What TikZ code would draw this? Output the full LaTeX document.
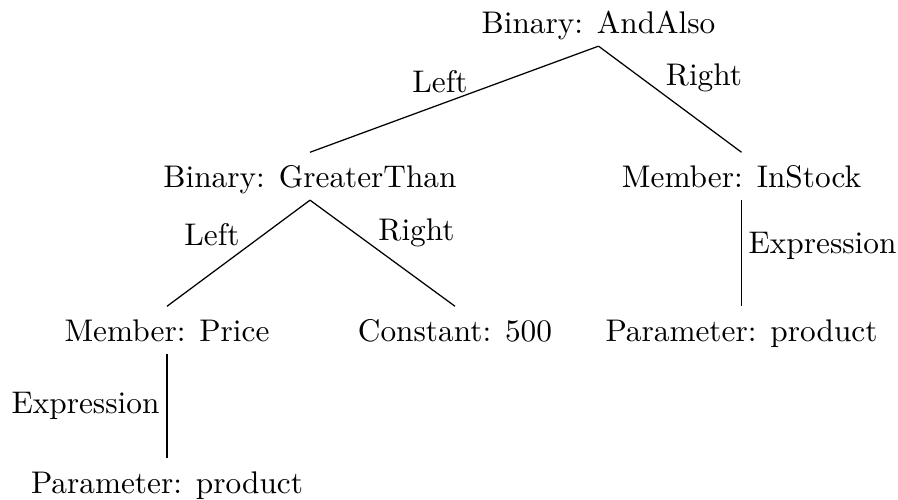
\documentclass[tikz,border=0pt]{standalone}
\begin{document}
\begin{tikzpicture}[x=0.3195pt,y=-0.3195pt,
  tn/.style={anchor=base, inner xsep=0pt, inner ysep=0pt, text height=10.9pt, text depth=4pt},
  lbl/.style={anchor=base, inner sep=0pt},
  edge/.style={draw, line width=0.4pt}]
\useasboundingbox (0,0) rectangle (898,499);
\node[tn] (and) at (598.5,33) {Binary: AndAlso};
\node[tn] (gt) at (310,187) {Binary: GreaterThan};
\node[tn] (stock) at (741.5,187) {Member: InStock};
\node[tn] (price) at (167,341) {Member: Price};
\node[tn] (const) at (455,341) {Constant: 500};
\node[tn] (par1) at (741.5,341) {Parameter: product};
\node[tn] (par2) at (167,493) {Parameter: product};
\path[edge] (and.south) -- (gt.north);
\path[edge] (and.south) -- (stock.north);
\path[edge] (gt.south) -- (price.north);
\path[edge] (gt.south) -- (const.north);
\path[edge] (stock.south) -- (par1.north);
\path[edge] (price.south) -- (par2.north);
\node[lbl] (l1) at (440,92) {Left};
\node[lbl] (r1) at (704,85) {Right};
\node[lbl] (l2) at (212,245) {Left};
\node[lbl] (r2) at (416.5,240) {Right};
\node[lbl] (e1) at (822.5,253) {Expression};
\node[lbl] (e2) at (85.5,413) {Expression};
\end{tikzpicture}
\end{document}
